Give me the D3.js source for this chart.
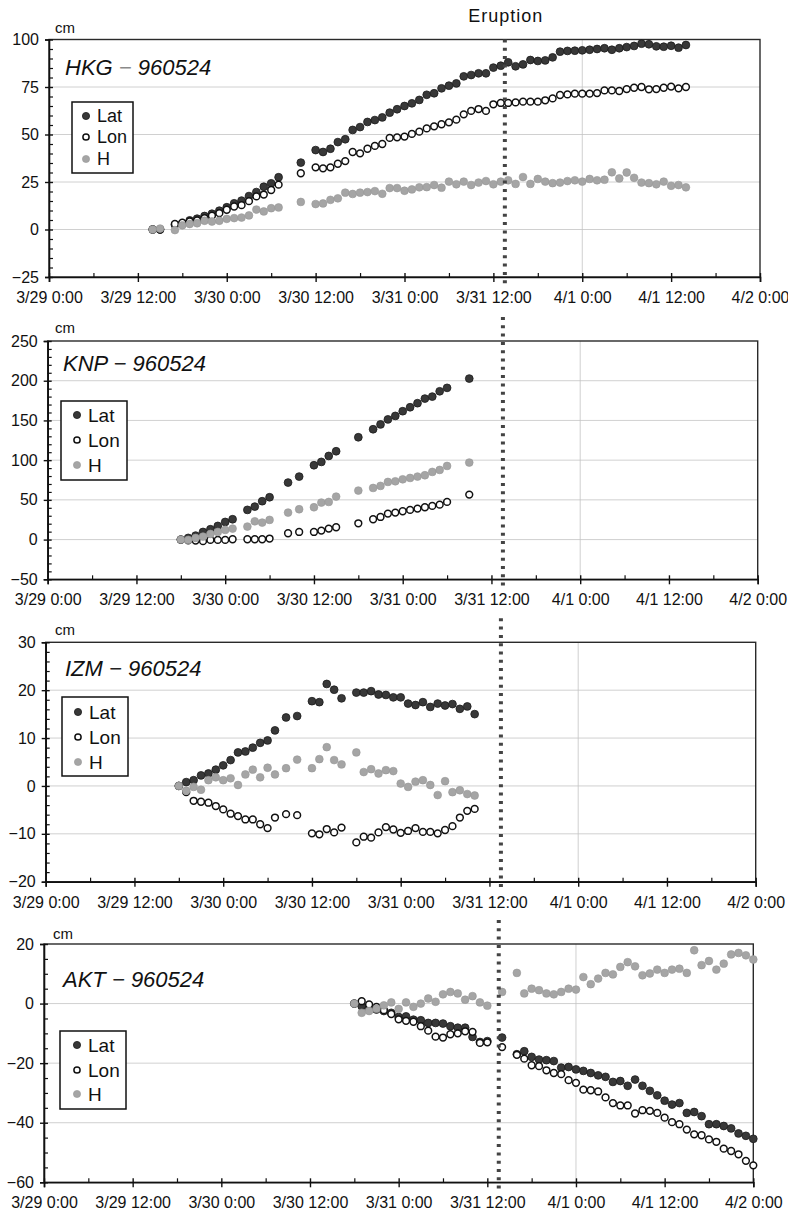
<!DOCTYPE html>
<html><head><meta charset="utf-8">
<script src="https://cdn.jsdelivr.net/npm/d3@7"></script>
<style>body{margin:0;background:#fff}svg{display:block}</style>
</head><body>
<svg id="chart" width="788" height="1213"></svg>
<script>
// ---------- data (hours after 3/29 0:00, values in cm) ----------
const xTickHours = [0, 12, 24, 36, 48, 60, 72, 84, 96];
const xTickLabels = ["3/29 0:00", "3/29 12:00", "3/30 0:00", "3/30 12:00", "3/31 0:00", "3/31 12:00", "4/1 0:00", "4/1 12:00", "4/2 0:00"];
const seriesNames = ["Lat", "Lon", "H"];
const eruptionHour = 61.55;
const eruptionLabel = "Eruption";

const hkgHours = [14,15,17,18,19,20,21,22,23,24,25,26,27,28,29,30,31,34,36,37,38,39,40,41,42,43,44,45,46,47,48,49,50,51,52,53,54,55,56,57,58,59,60,61,62,63,64,65,66,67,68,69,70,71,72,73,74,75,76,77,78,79,80,81,82,83,84,85,86];
const hkgLat = [0,0,2.5,3.2,4.8,5.7,7.1,8.3,9.9,11.7,13.8,15.2,17.6,19.7,22.5,24.3,27.5,35.2,41.8,40.8,42.5,46,47.5,52.4,53.9,56.6,57.6,59,61.5,63.3,65,66.4,68.2,70.9,71.7,74.3,75.7,76.9,80.6,81.3,82.2,82.2,85.2,86.2,88,85.9,86.9,89.2,88.7,89,90.6,93.6,94,94.1,94.3,94.6,95,95.4,94.6,95.4,96,96.6,97.8,97.5,96.4,96.2,96.7,95.7,97.1];
const hkgLon = [0,0,2.9,3.6,4.3,4.8,6,7.3,8.6,10.4,12.1,12.8,14.9,17.4,18.4,20.8,23.6,29.6,32.7,32.2,32.7,34.6,36,40.8,40.1,42.5,44,45,48.2,48.5,48.9,50.3,51.5,53.2,54.3,55.4,56.4,57.8,60.6,62.4,63.4,62.4,65.9,66.6,66.6,66.9,67.3,67.3,67.3,68,69,70.8,71.1,71.5,71.5,71.5,71.8,73.2,73.2,72.9,73.9,74.6,75,73.8,73.9,74.6,75.2,74.3,75];
const hkgH = [0,0.5,-0.3,2.2,2.9,3.3,4.6,4.2,4.6,5.6,6,6.3,7.4,10.5,9.5,11.2,11.6,14.5,13.4,13.7,15.6,16.4,19.4,18.7,19.4,19.7,20.2,18.8,21.8,21.8,20.4,21.1,22.2,22.3,23.4,22,25.2,23.8,25.2,23.4,24.7,25.5,23.8,25.2,25.9,24,27.6,24,26.6,25.2,24.4,24.7,25.5,25.9,25.2,26.6,25.9,26.2,30.1,26.9,30,27.2,24.7,24.4,23.8,25.2,23,23.4,22.2];

const knpHours = [18,19,20,21,22,23,24,25,27,28,29,30,32.5,34,36,37,38,39,42,44,45,46,47,48,49,50,51,52,53,54,57];
const knpLat = [0,2.1,5,9.6,13,17.2,22.2,25.6,37.4,41.5,48.3,53.3,71.8,79.3,93.6,97.8,105.3,111.2,128.8,138.9,145,151.3,155.7,161.6,166.6,171.7,177.5,180,186.7,191,202.7];
const knpLon = [0,-1,-1.3,-2,-0.4,-0.4,-0.4,0.4,0.4,0.4,0.4,1.3,8,9.6,9.6,11.3,13.8,15.5,20.5,25.6,28.5,32.7,34,35.7,37.4,39,40.7,42.4,44,47.4,56.6];
const knpH = [0,-0.4,2,3.8,7.1,9.6,12.2,13.8,16.4,23,21.4,24.8,34,38.2,40.7,46.6,47.4,54.1,61.7,65,67.6,72.6,73.4,75.9,77.6,79.3,81,85.2,87.7,92.7,97];

const izmHours = [18,19,20,21,22,23,24,25,26,27,28,29,30,31,32.5,34,36,37,38,39,40,42,43,44,45,46,47,48,49,50,51,52,53,54,55,56,57,58];
const izmLat = [0,0.8,1.2,2.2,2.6,3.4,4.3,5.4,7,7.2,8,9,9.5,11.6,14.3,14.6,17.7,17.5,21.3,20.1,18.3,19.5,19.5,19.8,19.1,19,18.5,18.5,17.2,16.9,17.5,16.5,17.2,16.8,17.1,16.1,16.6,15];
const izmLon = [0,-1.3,-3.1,-3.3,-3.5,-4.2,-4.9,-5.8,-6.3,-7,-7,-8,-8.8,-6.6,-5.9,-6.1,-9.9,-10.1,-9,-9.7,-8.7,-11.8,-10.6,-10.8,-9.7,-8.6,-9.1,-9.8,-9.4,-8.8,-9.6,-9.6,-9.9,-9.2,-8.4,-6.6,-5.2,-4.8];
const izmH = [0,-1,-0.2,-0.8,1.2,1.8,1.2,1.6,0.2,2.4,3.4,1.8,3.8,2.4,3.7,5.5,3.7,5.6,8.1,5.4,4.5,7,2.9,3.5,2.6,3.3,3.1,0.5,-0.2,0.9,1.2,0.2,-1.9,1,-1.3,-0.9,-1.7,-2];

const aktHours = [42,43,44,45,46,47,48,49,50,51,52,53,54,55,56,57,58,59,60,62,64,65,66,67,68,69,70,71,72,73,74,75,76,77,78,79,80,81,82,83,84,85,86,87,88,89,90,91,92,93,94,95,96];
const aktLat = [0,-0.9,-1.5,-2,-2.5,-3.1,-4.5,-4.3,-5.4,-5.6,-6.5,-6.5,-6.7,-7.6,-8.1,-8.1,-11.2,-12.9,-12.6,-11.4,-17,-16,-17.9,-18.8,-19,-19.3,-21.5,-21.3,-22.1,-22.6,-23.3,-24.1,-24.6,-26.3,-26,-27.6,-25.5,-27.6,-29.3,-30.8,-32.6,-33.9,-33.4,-36.7,-36.4,-37.8,-40.5,-40.5,-41.1,-41.9,-43.6,-44.4,-45.4];
const aktLon = [0,0.8,-0.3,-1.1,-2.2,-3.5,-5.3,-5.8,-6.1,-7.6,-9.1,-11.1,-11.4,-10.3,-10,-9.3,-9.5,-13.2,-13,-14.6,-17.2,-18.5,-20.7,-21,-22.4,-23.3,-23.7,-25.7,-26.6,-28.9,-29.1,-29.5,-31.5,-33.4,-34.2,-34.2,-36.9,-35.8,-36,-36.7,-38.3,-39.8,-40.5,-42.3,-43.9,-44.2,-45.6,-46.4,-48.7,-49.5,-50.6,-52.8,-54.3];
const aktH = [0,-3.1,-2.5,-1.7,-0.6,0.4,-1.8,0.4,-1.1,0,1.7,0.6,3.1,3.9,3.4,1.3,2.5,0.4,-0.7,3.9,10.3,3.4,5,4.5,3.4,3.1,3.9,5,4.7,8.9,6.5,8.4,10.3,9.8,12.3,13.9,12.5,9.5,10.1,11.4,10.3,11.4,11.7,10.3,17.9,12.9,14.3,11.4,13.4,16.5,17,16.2,14.8];

// ---------- layout ----------
const panels = [
  {station:"HKG", code:"960524", dashColor:"#8a8a8a", hours:hkgHours, series:[hkgLat,hkgLon,hkgH],
   yDomain:[-25,100], yMajor:[-25,0,25,50,75,100], yMinor:5,
   box:{left:49, right:760, top:39.5, bottom:277},
   title:{x:65, y:75}, cm:{x:55, y:33},
   legend:{x:72, y:102, w:61, h:71, rows:[116,137,159], mx:86, tx:97, fs:18}},
  {station:"KNP", code:"960524", dashColor:"#222", hours:knpHours, series:[knpLat,knpLon,knpH],
   yDomain:[-50,250], yMajor:[-50,0,50,100,150,200,250], yMinor:10,
   box:{left:47.7, right:757.7, top:341, bottom:579.3},
   title:{x:63, y:371}, cm:{x:55, y:333},
   legend:{x:61, y:401, w:66, h:79, rows:[415,440,465], mx:77, tx:88, fs:19}},
  {station:"IZM", code:"960524", dashColor:"#222", hours:izmHours, series:[izmLat,izmLon,izmH],
   yDomain:[-20,30], yMajor:[-20,-10,0,10,20,30], yMinor:2,
   box:{left:45.7, right:755.7, top:642.3, bottom:881.7},
   title:{x:65, y:676}, cm:{x:55, y:635},
   legend:{x:62, y:697, w:66, h:79, rows:[712,737,762], mx:78, tx:89, fs:19}},
  {station:"AKT", code:"960524", dashColor:"#222", hours:aktHours, series:[aktLat,aktLon,aktH],
   yDomain:[-60,20], yMajor:[-60,-40,-20,0,20], yMinor:5,
   box:{left:44, right:753.3, top:944, bottom:1182.3},
   title:{x:63, y:987}, cm:{x:53, y:939},
   legend:{x:60, y:1031, w:66, h:78, rows:[1045,1070,1094], mx:77, tx:88, fs:19}}
];

const markerStyle = [
  {r:3.9, fill:"#383838", stroke:"#1c1c1c", sw:0.8},
  {r:3.4, fill:"#ffffff", stroke:"#111", sw:1.5},
  {r:3.9, fill:"#a5a5a5", stroke:"#979797", sw:0.6}
];

const svg = d3.select("#chart");
const tickFont = "'Liberation Sans', Arial, sans-serif";
const fmtY = d => d < 0 ? "\u2212" + Math.abs(d) : String(d);

panels.forEach((p, pi) => {
  const b = p.box;
  const x = d3.scaleLinear().domain([0, 96]).range([b.left, b.right]);
  const y = d3.scaleLinear().domain(p.yDomain).range([b.bottom, b.top]);
  const g = svg.append("g");

  // horizontal grid
  g.append("g").selectAll("line").data(p.yMajor.filter(v => v !== p.yDomain[0] && v !== p.yDomain[1]))
    .join("line").attr("x1", b.left).attr("x2", b.right).attr("y1", d => y(d)).attr("y2", d => y(d))
    .attr("stroke", "#c4c4c4").attr("stroke-width", 0.8);
  // vertical grid at 4/1 0:00
  g.append("line").attr("x1", x(72)).attr("x2", x(72)).attr("y1", b.top).attr("y2", b.bottom)
    .attr("stroke", "#c4c4c4").attr("stroke-width", 0.8);

  // frame
  g.append("rect").attr("x", b.left).attr("y", b.top).attr("width", b.right - b.left).attr("height", b.bottom - b.top)
    .attr("fill", "none").attr("stroke", "#2a2a2a").attr("stroke-width", 1.4);

  // x axis
  const xa = g.append("g").attr("transform", `translate(0,${b.bottom})`)
    .call(d3.axisBottom(x).tickValues(xTickHours).tickFormat((d, i) => xTickLabels[i]).tickSize(5).tickPadding(9.6));
  xa.select(".domain").attr("stroke", "#111").attr("stroke-width", 1.6);
  xa.selectAll(".tick line").attr("y1", -4).attr("y2", 5).attr("stroke", "#111").attr("stroke-width", 1.4);
  xa.selectAll("text").attr("font-family", tickFont).attr("font-size", 16).attr("fill", "#111");
  const xm = g.append("g").attr("transform", `translate(0,${b.bottom})`)
    .call(d3.axisBottom(x).tickValues(xTickHours.slice(0, -1).map(h => h + 6)).tickSize(-4).tickFormat(""));
  xm.select(".domain").remove();
  xm.selectAll(".tick line").attr("stroke", "#111").attr("stroke-width", 1.2);

  // y axis
  const ya = g.append("g").attr("transform", `translate(${b.left},0)`)
    .call(d3.axisLeft(y).tickValues(p.yMajor).tickFormat(fmtY).tickSize(4).tickPadding(6));
  ya.select(".domain").attr("stroke", "#111").attr("stroke-width", 1.6);
  ya.selectAll(".tick line").attr("x1", 4).attr("x2", -4).attr("stroke", "#111").attr("stroke-width", 1.4);
  ya.selectAll("text").attr("font-family", tickFont).attr("font-size", 16).attr("fill", "#111");
  const minors = d3.range(p.yDomain[0], p.yDomain[1] + 0.001, p.yMinor).filter(v => !p.yMajor.includes(v));
  const ym = g.append("g").attr("transform", `translate(${b.left},0)`)
    .call(d3.axisLeft(y).tickValues(minors).tickSize(-4).tickFormat(""));
  ym.select(".domain").remove();
  ym.selectAll(".tick line").attr("stroke", "#111").attr("stroke-width", 1.2);

  // data
  p.series.forEach((vals, si) => {
    const st = markerStyle[si];
    g.append("g").selectAll("circle").data(p.hours.map((h, i) => ({h, v: vals[i]})))
      .join("circle").attr("cx", d => x(d.h)).attr("cy", d => y(d.v)).attr("r", st.r)
      .attr("fill", st.fill).attr("stroke", st.stroke).attr("stroke-width", st.sw);
  });

  // legend
  const L = p.legend;
  g.append("rect").attr("x", L.x).attr("y", L.y).attr("width", L.w).attr("height", L.h)
    .attr("fill", "#fff").attr("stroke", "#111").attr("stroke-width", 1.5);
  seriesNames.forEach((name, si) => {
    const st = markerStyle[si];
    g.append("circle").attr("cx", L.mx).attr("cy", L.rows[si]).attr("r", st.r - 0.3)
      .attr("fill", st.fill).attr("stroke", st.stroke).attr("stroke-width", st.sw);
    g.append("text").attr("x", L.tx).attr("y", L.rows[si]).attr("dominant-baseline", "central")
      .attr("font-family", tickFont).attr("font-size", L.fs).attr("fill", "#111").text(name);
  });

  // title
  const t = g.append("text").attr("x", p.title.x).attr("y", p.title.y)
    .attr("font-family", tickFont).attr("font-style", "italic").attr("font-size", 22).attr("fill", "#111");
  t.append("tspan").text(p.station + " ");
  t.append("tspan").attr("fill", p.dashColor).text("\u2212");
  t.append("tspan").text(" " + p.code);

  // unit
  g.append("text").attr("x", p.cm.x).attr("y", p.cm.y).attr("font-family", tickFont)
    .attr("font-size", 15).attr("fill", "#111").text("cm");

  // eruption dotted line segment
  g.append("line").attr("x1", x(eruptionHour)).attr("x2", x(eruptionHour))
    .attr("y1", pi === 0 ? b.top : b.top - 24).attr("y2", b.bottom + 8)
    .attr("stroke", "#444").attr("stroke-width", 4).attr("stroke-dasharray", "3 5.3");

  if (pi === 0) {
    svg.append("text").attr("x", x(eruptionHour) + 1).attr("y", 22).attr("text-anchor", "middle")
      .attr("font-family", tickFont).attr("font-size", 18).attr("letter-spacing", 1).attr("fill", "#111").text(eruptionLabel);
  }
});
</script>
</body></html>
